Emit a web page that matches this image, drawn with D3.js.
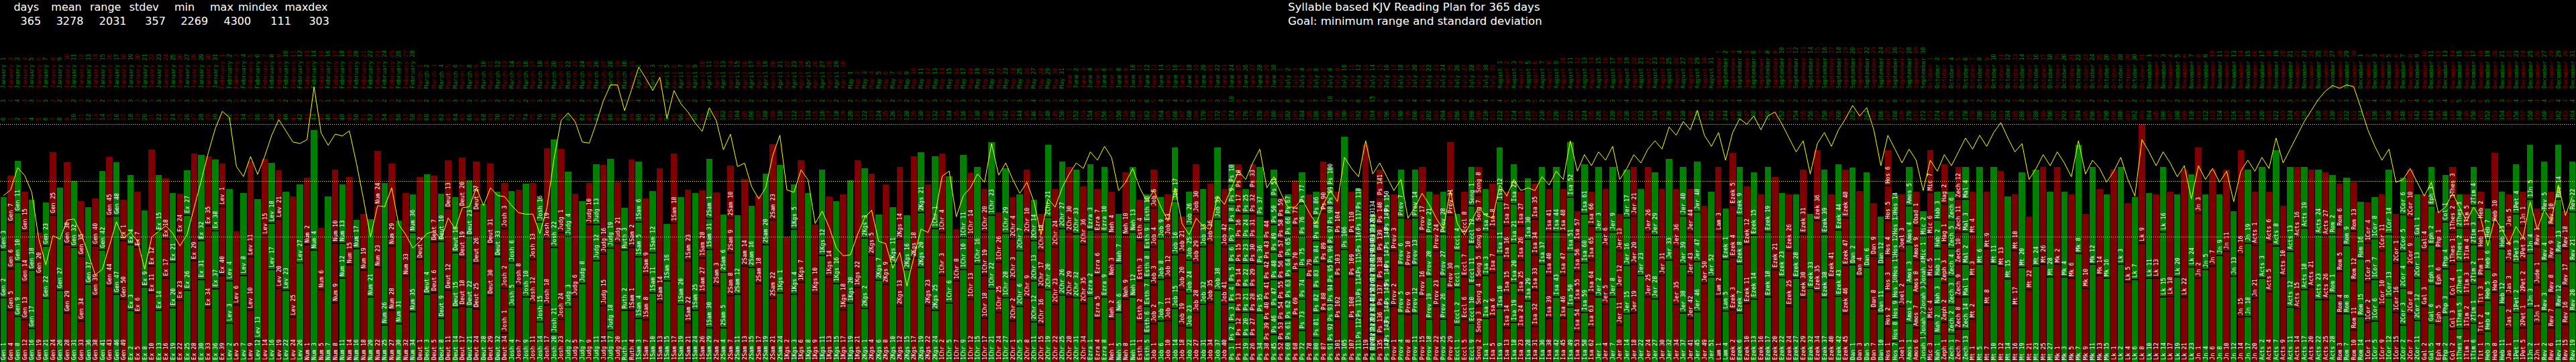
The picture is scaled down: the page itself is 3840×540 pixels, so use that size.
<!DOCTYPE html>
<html><head><meta charset="utf-8">
<script src="https://cdn.jsdelivr.net/npm/d3@7"></script>
<style>body{margin:0;background:#000;}svg{display:block;}</style>
</head><body>
<svg id="chart" width="3840" height="540"></svg>
<script>
// ---------------- DATA ----------------
const statLabels = ["days","mean","range","stdev","min","max","mindex","maxdex"];
const statValues = [365, 3278, 2031, 357, 2269, 4300, 111, 303];
const titleLines = ["Syllable based KJV Reading Plan for 365 days", "Goal: minimum range and standard deviation"];

const monthNames = ["January","February","March","April","May","June","July","August","September","October","November","December"];
const monthLengths = [31,28,31,30,31,30,31,31,30,31,30,31];

const bookAbbr = ["Gen","Ex","Lev","Num","Deut","Josh","Judg","Ruth","1Sam","2Sam","1Kgs","2Kgs","1Chr","2Chr","Ezra","Neh","Esth","Job","Ps","Prov","Eccl","Song","Isa","Jer","Lam","Ezek","Dan","Hos","Joel","Amos","Obad","Jonah","Mic","Nah","Hab","Zeph","Hag","Zech","Mal","Mt","Mk","Lk","Jn","Acts","Rom","1Cor","2Cor","Gal","Eph","Php","Col","1Thes","2Thes","1Tim","2Tim","Tit","Phm","Heb","Jas","1Pet","2Pet","1Jn","2Jn","3Jn","Jude","Rev"];
const bookChapters = [50,40,27,36,34,24,21,4,31,24,22,25,29,36,10,13,10,42,150,31,12,8,66,52,5,48,12,14,3,9,1,4,7,3,3,3,2,14,4,28,16,24,21,28,16,16,13,6,6,4,4,5,3,6,4,3,1,13,5,5,3,5,1,1,1,22];

// syllables of each chapter read in a day (one inner list per day)
const daySyllables = [
[1164,865,953],[937,751,832,848],[824,986,893,933],[768,667,929,715],[606,1050,1277],
[1576,764],[1147,953,784],[2658,1135],[1301,1850],[881,1240,1491],
[2077,1200],[743,1168,998],[1402,1398],[1180,921,856],[2028,1426],
[1366,1260,1083],[1228,1414,970],[1139,1058,735],[937,1180,1265],[881,1188,1010],
[1353,1386],[1244,485,2113],[937,1422,1022],[1519,711,1091],[986,816,1252],
[1119,1200,723],[1301,1357,808],[1826,1943],[1495,695,1555],[986,1479,1256],
[1325,1054,1281],[1568,1244,776],[707,764,1656],[1034,1329],[1568,1487],
[937,962,1725],[412,2533],[2283,1390],[1673,832,1095],[1333,1252,881],
[1293,1786],[808,2186],[1798,1414],[2121,1212],[2020,2174],
[1313,1111],[2994],[1071,1079,1329],[1511,638,1063],[1753,1592],
[2052,517],[1656,1022],[1180,1402],[1705,1123,990],[671,2565],
[929,1172,1487],[695,1862],[1551,1503],[913,1430,687],[1850,1495],
[1220,2174],[1252,917,1200],[792,1390,861],[1301,1471,877],[978,1002,1002],
[1010,881,897,909],[998,1281,1006],[957,820,945,901],[2860],[1200,917,1471],
[1899,1180],[525,808,1083,820],[990,804,1297],[1374,1741],[1180,2044],
[1063,788,1386],[727,1810,420],[1030,1200,1636],[509,1559,1955],[776,1568,1511],
[994,1277,1172],[1172,1871],[1414,1495],[2485,751],[1834,654,1087],
[1018,937,1608],[566,1495,1612],[2149,1099],[929,1091,768],[929,1147,1584],
[792,1107,638,1087],[768,808,1382],[1244,735,1111],[1075,2428],[1471,1026],
[2513,1256],[1042,1939],[711,1123,1281],[937,2117],[1244,638,1220],
[614,1422,558,1079],[1386,1681],[622,1002,1042],[1204,776,630,941],[1220,1434],
[1729,1576],[1713,1111],[1414,1592],[2117,1289],[1155,1410,1374],
[1252,2315],[2266],[1220,1180,812],[1438,2210],[3054],
[1236,1248],[1931,1547],[1543,1450],[1422,1487],[945,2085],
[1067,2218],[1349,2299],[970,1277,1256],[1931,1475],[1479,1188],
[1406,1806],[1778,1022],[1010,1204,1313],[1673,982],[1875,1846],
[1705,994,1095],[1018,2194],[929,1479,1313],[1559,784,1426],[1067,2291],
[1462,937],[1673,566,1507],
// day 137 onward
[1139,1139,1139],[1764,1764],[782,782,782,782],[1326,1326,1326],[903,903,903],[1166,1166,1166],
[745,745,745,745],[1009,1009,1009],[1159,1159,1159],[732,732,732,732],[670,670,670,670],
[1309,1309,1309],[1043,1043,1043],[1209,1209,1209],[1176,1176,1176],[1159,1159,1159],[1059,1059,1059],
[1193,1193,1193],[782,782,782,782],[1176,1176,1176],
[770,770,770,770],[893,893,893],[1143,1143,1143],[1176,1176,1176],
[732,732,732,732],[505,505,505,505,505,505],
[696,696,696,696,696],[745,745,745,745],[757,757,757,757],[970,970,970,970],[657,657,657,657],
[616,616,616,616,616],[895,895,895,895],[1043,1043,1043],[1076,1076,1076],[1293,1293,1293],[1043,1043,1043],
[358,358,358,358,358,358,358,358,358,358],[447,447,447,447,447,447,447,447],[447,447,447,447,447,447,447],
[447,447,447,447,447,447,447,447],[882,882,882,882],[368,368,368,368,368,368,368],[497,497,497,497,497,497,497],
[372,372,372,372,372,372,372,372],[379,379,379,379,379,379,379,379],[820,820,820,820],[571,571,571,571,571,571],
[1514,1514],[440,440,440,440,440,440,440],[907,907,907,907],[353,353,353,353,353,353,353,353,353,353],
[770,770,770,770],[2039,2039],[770,770,770,770],[391,391,391,391,391,391,391,391],[3928],
[179,179,179,179,179,179,179,179,179,179,179,179,179,179,179],[497,497,497,497,497,497,497],
[336,336,336,336,336,336,336,336,336],
[1009,1009,1009],[870,870,870,870],[859,859,859],[870,870,870,870],[1176,1176,1176],[770,770,770,770],
[1009,1009,1009],[770,770,770,770],[1326,1326,1326],
[670,670,670,670],[770,770,770,770],[706,706,706,706,706],[504,504,504,504,504,504,504],
[782,782,782,782],[807,807,807,807],[970,970,970,970],[616,616,616,616,616],[716,716,716,716,716],
[616,616,616,616,616],[1109,1109,1109],[646,646,646,646,646],[1764,1764],[782,782,782,782],[1176,1176,1176],
[782,782,782,782],[995,995,995,995],[546,546,546,546,546],[895,895,895,895],[616,616,616,616,616],
[1176,1176,1176],[1043,1043,1043],[1176,1176,1176],[670,670,670,670],[870,870,870,870],[882,882,882,882],
[1564,1564],[1176,1176,1176],[1143,1143,1143],[1564,1564],[1839,1839],[1043,1043,1043],[882,882,882,882],
[782,782,782,782],[907,907,907,907],[1414,1414],[1539,1539],
[1176,1176,1176],[926,926,926],
[945,945,945,945],[882,882,882,882],[1059,1059,1059],[1143,1143,1143],[3028],[1176,1176,1176],[1674,1674],
[1529,1529],[1009,1009,1009],[1514,1514],[1159,1159,1159],[1339,1339],[1276,1276,1276],[1159,1159,1159],
[1514,1514],[1193,1193,1193],[870,870,870,870],
[1759,1759],[1544,1544],[1714,1714],[959,959,959],[876,876,876],
[638,638,638,638,638,638],[379,379,379,379,379,379,379,379],[1009,1009,1009],[706,706,706,706,706],
[616,616,616,616,616],[455,455,455,455,455,455],[766,766,766,766,766],[513,513,513,513,513,513],
[716,716,716,716,716],[513,513,513,513,513,513],[588,588,588,588,588,588],[588,588,588,588,588,588],
[770,770,770,770],[1764,1764],[1026,1026,1026],[1764,1764],[1729,1729],[1499,1499],[1009,1009,1009],
[1714,1714],[1314,1314],[1739,1739],[1764,1764],[1539,1539],
[1764,1764],[1539,1539],[1514,1514],[1964,1964],[1339,1339],[1764,1764],[1564,1564],[1514,1514],
[3478],[1764,1764],[1439,1439],[1489,1489],[2150,2150],
[1515,1541],[1514,1514],[1175,1176,1177],[1188,1890],[1540,1488],[1175,2303],[1720,1680],
[1515,1181,1182],[1673,1355],[1739,1739],[1927,1101],[2000,1478],[1550,1178],[810,1127,1891],
[824,1327,1327],[1150,964,964],[1515,2013],[1273,902,903],[2100,1728],[1550,1278],[994,1006,1528],
[970,1279,1279],[1310,1109,1109],[1355,2123],[1130,1174,1174],[1130,1149,1149],[1240,1069,1069],
[870,765,796,797],[870,1234,1234],[580,889,889,890],[824,1037,1037],
[720,720,720,720],[745,745,745,745],[1009,1009,1009],[1159,1159,1159],[893,893,893],
[666,666,666,666,666],[870,870,870,870],[757,757,757,757],[1009,1009,1009],[706,706,706,706,706],
[682,682,682,682],[845,845,845,845],[588,588,588,588,588,588],[606,606,606,606,606],[606,606,606,606,606],
[706,706,706,706,706],[513,513,513,513,513,513],[556,556,556,556,556],[1259,1259,1259],[1026,1026,1026],
[606,606,606,606,606],[895,895,895,895],[616,616,616,616,616],[982,982,982,982],[695,695,695,695],
[907,907,907,907],[616,616,616,616,616],[982,982,982,982],[682,682,682,682],[907,907,907,907]
];

// yellow running curve, one value per day (same units as the bars)
const runningCurve = [
3010,3111,3515,3373,3070,2222,1757,2283,2222,2565,
2586,2323,1959,1576,1677,2101,2537,2242,2343,2182,
1677,2262,2363,2464,2323,2101,2303,2788,3272,3777,
4222,4533,4424,3535,3353,3717,3394,3717,4101,4383,
4181,3979,3951,4020,4977,4141,3919,4121,4088,4181,
3596,2949,2262,2828,2808,3151,2485,2303,2060,2182,
2323,2363,2222,2606,2404,2788,2808,3151,2828,3151,
3010,2990,2828,2699,2674,2674,2323,2788,3676,4363,
4505,4343,3979,3959,4323,4727,5010,5010,4545,4929,
5333,5131,4909,5151,4404,4909,4666,4517,4323,4169,
4598,4363,3838,4121,3535,3596,3171,2949,3151,3737,
4101,3111,3070,3474,3293,2505,2727,2432,2060,1919,
1939,2303,2606,2747,2182,2141,1697,1980,1374,1899,
2404,2343,2666,3361,3454,2626,3010,
3150,3400,3250,3950,3380,3600,3300,3050,3250,2900,
2300,2950,2800,3150,3400,3600,3500,3800,3650,3900,
3700,3100,3250,3500,3150,2900,3100,2800,2550,3150,
2500,2300,2600,2450,2400,3000,2850,3150,3450,3300,
3600,3850,3150,3350,3050,2800,2800,2950,2700,2500,
2850,3100,2900,3700,3500,3350,4000,3400,3600,3350,
3100,3300,2600,2800,3050,2850,2600,2400,3100,2500,
2300,2550,2800,2650,2600,3200,3000,3300,3100,3150,
3100,3350,3200,3450,3300,4000,3450,3750,3550,3800,
3650,3900,3300,3500,3750,3600,3850,4000,3850,4250,
4100,4350,4200,4550,4100,3900,4150,3650,4150,4400,
4300,4450,4200,4450,4520,4300,4050,3800,4000,3400,
3950,4150,3900,4200,4400,4640,4450,4600,4200,3550,
4100,3850,3600,3850,3650,3100,3650,3450,3750,3550,
3800,4050,3850,4100,3900,4150,4330,4050,3800,3950,
3300,3500,3750,3550,3800,3600,3350,4000,3400,3650,
3500,3250,3450,3700,3300,3000,4022,3800,3550,3800,
3600,3350,3550,2950,3550,3300,3500,3250,3450,2900,
3450,3650,3450,3700,3500,4050,3600,3850,4100,4350,
4550,4750,4900,5000,4950,5010,4980,4600,4200,3900,
3650,3850,3250,3300,3500,3250,3000,3250,2700,2800,
3050,2800,2550,2800,2600,2100,2600,2400,2150,2450,
2250,2900,2400,2750,2550,3200,2650,3000
];

// ---------------- BUILD ----------------
const W = 3840, H = 540;
const GREEN = "#008000", RED = "#800000", YELLOW = "#ffff00";
const nDays = statValues[0];

const chapterNames = [];
bookAbbr.forEach((b, i) => { for (let c = 1; c <= bookChapters[i]; c++) chapterNames.push(b + " " + c); });

const dateLabels = [];
monthNames.forEach((m, i) => { for (let d = 1; d <= monthLengths[i]; d++) dateLabels.push(m + " " + d); });

let ptr = 0;
const days = daySyllables.map((segs, i) => {
  let cum = 0;
  const parts = segs.map(v => { const p = {name: chapterNames[ptr++] || "", y0: cum, y1: cum + v}; cum += v; return p; });
  return {i, parts, total: cum};
});

const svg = d3.select("#chart");
svg.append("rect").attr("width", W).attr("height", H).attr("fill", "#000");

const x = d3.scaleBand().domain(d3.range(nDays)).range([0, W]).paddingInner(0.1).paddingOuter(0.05);
const y = d3.scaleLinear().domain([0, statValues[5]]).range([540, 185.3]);
const bw = x.bandwidth();
const cx = i => x(i) + bw / 2;
const col = i => (i % 2 === 0 ? GREEN : RED);

// bars
const gBars = svg.append("g").attr("shape-rendering", "crispEdges");
days.forEach(d => {
  d.parts.forEach((p, k) => {
    gBars.append("rect").attr("x", x(d.i)).attr("width", bw)
      .attr("y", y(p.y1)).attr("height", y(p.y0) - y(p.y1)).attr("fill", col(d.i));
    if (k > 0) gBars.append("rect").attr("x", x(d.i)).attr("width", bw)
      .attr("y", y(p.y0) - 1).attr("height", 2).attr("fill", "#000");
  });
});

// chapter labels
const gLab = svg.append("g").attr("font-family", "DejaVu Sans Mono, monospace").attr("font-size", 8.6).attr("fill", "#fff");
days.forEach(d => {
  d.parts.forEach(p => {
    const ty = y(p.y0) - 3;
    gLab.append("text").attr("transform", `translate(${cx(d.i)},${ty}) rotate(-90)`)
      .attr("dominant-baseline", "central").text(p.name);
  });
});

// header rows
const gHead = svg.append("g").attr("font-family", "DejaVu Sans Mono, monospace").attr("font-size", 8.6);
d3.range(nDays).forEach(i => {
  gHead.append("text").attr("transform", `translate(${cx(i)},132) rotate(-90)`)
    .attr("dominant-baseline", "central").attr("fill", col(i)).text(dateLabels[i]);
  if (i < days.length)
    gHead.append("text").attr("transform", `translate(${cx(i)},153) rotate(-90)`)
      .attr("dominant-baseline", "central").attr("fill", col(i)).text(days[i].parts.length);
  gHead.append("text").attr("transform", `translate(${cx(i)},180) rotate(-90)`)
    .attr("dominant-baseline", "central").attr("fill", col(i)).text(i);
});

// dotted reference lines: max, mean, min
[statValues[5], statValues[1], statValues[4]].forEach(v => {
  svg.append("line").attr("x1", 0).attr("x2", W).attr("y1", Math.round(y(v)) + 0.5).attr("y2", Math.round(y(v)) + 0.5)
    .attr("stroke", YELLOW).attr("stroke-width", 1).attr("stroke-dasharray", "1,2").attr("shape-rendering", "crispEdges");
});

// running curve
svg.append("path").datum(runningCurve)
  .attr("d", d3.line().x((d, i) => cx(i)).y(d => y(d)))
  .attr("fill", "none").attr("stroke", YELLOW).attr("stroke-width", 1);

// stats table
const statX = [20.4, 76.3, 133.9, 192.7, 260, 313, 355, 424.5];
const valX = [30.6, 83.7, 147.8, 216.3, 269.4, 333.5, 403.3, 460.4];
const gStats = svg.append("g").attr("font-family", "DejaVu Sans, sans-serif").attr("font-size", 16).attr("fill", "#fff");
statLabels.forEach((s, i) => gStats.append("text").attr("x", statX[i]).attr("y", 16).text(s));
statValues.forEach((v, i) => gStats.append("text").attr("x", valX[i]).attr("y", 37).text(v));

// title
const gTitle = svg.append("g").attr("font-family", "DejaVu Sans, sans-serif").attr("font-size", 16.6).attr("fill", "#fff");
titleLines.forEach((t, i) => gTitle.append("text").attr("x", 1920).attr("y", 16 + i * 21).text(t));
</script>
</body></html>
